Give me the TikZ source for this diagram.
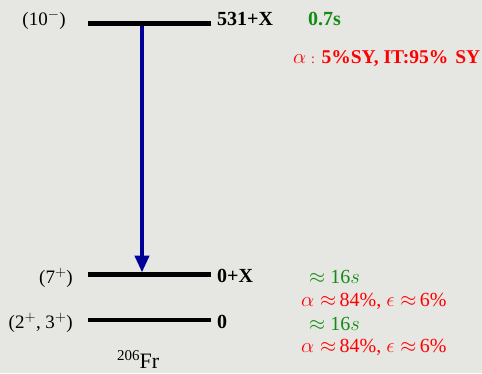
\documentclass[tikz,border=0pt]{standalone}
\usepackage{fontspec}
\setmainfont{Liberation Serif}
\usetikzlibrary{arrows.meta}
\definecolor{bg}{RGB}{230,230,226}
\definecolor{mygreen}{RGB}{20,140,20}
\definecolor{myblue}{RGB}{0,0,150}
\newcommand{\apx}{\approx$\hspace{3.5pt}}
\begin{document}
\begin{tikzpicture}[x=1pt,y=-1pt,
  level/.style={line width=4.5pt,black},
  lab/.style={inner sep=0pt,font=\fontsize{20}{22}\selectfont},
  energy/.style={lab,anchor=base west,font=\fontsize{20}{22}\selectfont\bfseries},
  spin/.style={lab,anchor=base east},
  half/.style={lab,anchor=base west,text=mygreen},
  decay/.style={lab,anchor=base west,text=red}]
\fill[bg] (0,0) rectangle (482,373);
\useasboundingbox (0,0) rectangle (482,373);
% levels
\coordinate (l1a) at (88,23.5); \coordinate (l1b) at (211,23.5);
\coordinate (l2a) at (88,274.5); \coordinate (l2b) at (211,274.5);
\coordinate (l3a) at (88,320); \coordinate (l3b) at (211,320);
\draw[level] (l1a) -- (l1b);
\draw[level] (l2a) -- (l2b);
\draw[level] (l3a) -- (l3b);
% transition
\coordinate (t1) at (142,26);
\coordinate (t2) at (142,272.5);
\draw[myblue,line width=4.5pt,-{Triangle[width=14pt,length=17pt]}] (t1) -- (t2);
% spins
\node[spin,font=\fontsize{19}{22}\selectfont] (s1) at (66,25) {(10$^-$)};
\node[spin,font=\fontsize{19}{22}\selectfont] (s2) at (73,283) {(7$^+$)};
\node[spin,font=\fontsize{19}{22}\selectfont] (s3) at (73,328) {(2$^+$, 3$^+$)};
% energies
\node[energy] (e1) at (217,25) {531+X};
\node[energy] (e2) at (217,282) {0+X};
\node[energy] (e3) at (217,328) {0};
% half-lives
\node[half,font=\fontsize{20}{22}\selectfont\bfseries] (h1) at (308,25) {0.7s};
\node[decay,font=\fontsize{19.5}{22}\selectfont] (d1) at (293,63) {$\alpha$ {\fontsize{14}{16}\selectfont:} \textbf{5\%SY, IT:95\%\hspace{7pt}SY}};
\node[half] (h2) at (309,283) {$\approx$ 16$s$};
\node[decay] (d2) at (301,306) {$\alpha\apx 84\%, $\epsilon\apx 6\%};
\node[half] (h3) at (309,330) {$\approx$ 16$s$};
\node[decay] (d3) at (301,352) {$\alpha\apx 84\%, $\epsilon\apx 6\%};
% nucleus
\node[lab,anchor=base west,font=\fontsize{22}{24}\selectfont] (nuc) at (117,368) {\raisebox{8pt}{\fontsize{15}{16}\selectfont 206}Fr};
\end{tikzpicture}
\end{document}
